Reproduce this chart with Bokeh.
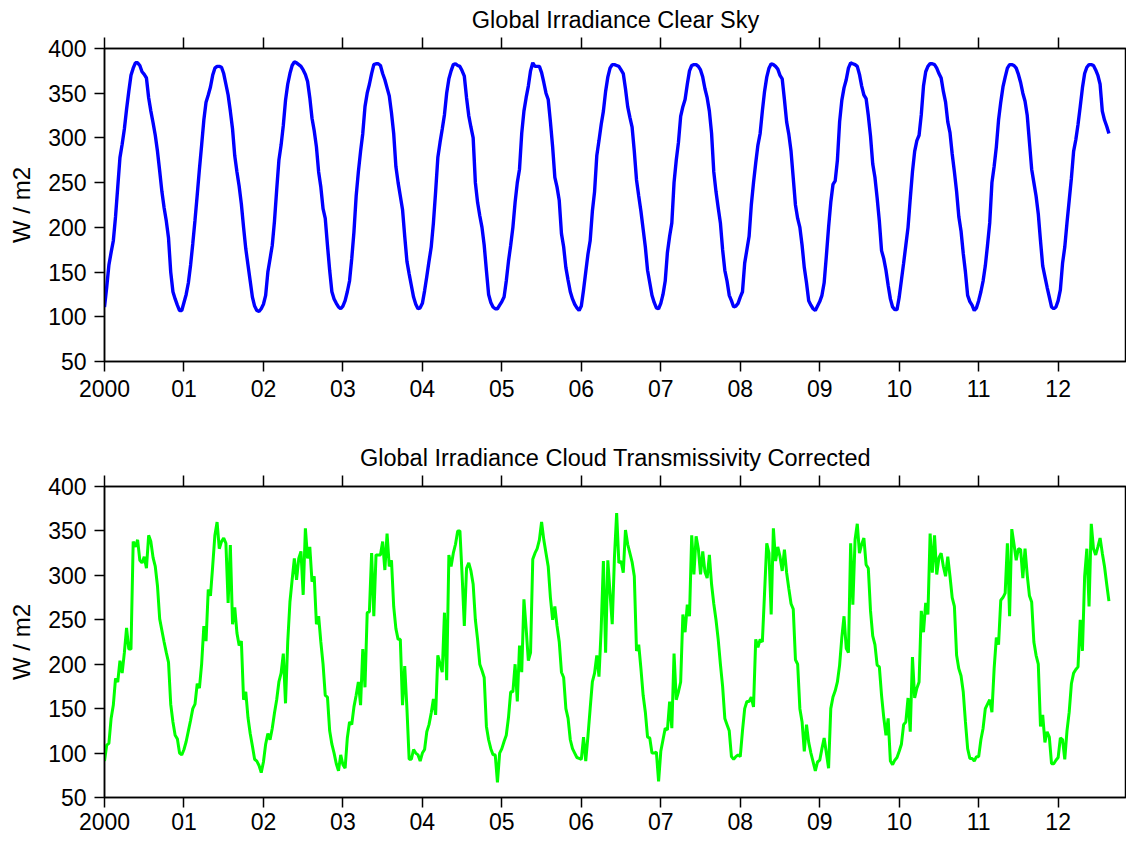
from bokeh.plotting import figure
from bokeh.models import FixedTicker, LinearAxis, Range1d, ColumnDataSource
from bokeh.layouts import column
from bokeh.embed import file_html
from bokeh.resources import INLINE

# ---------------- data (10-day steps, 36 per year) ----------------
years = list(range(2000, 2013))
tick_labels = ["2000", "01", "02", "03", "04", "05", "06", "07", "08", "09", "10", "11", "12"]
y_ticks = [50, 100, 150, 200, 250, 300, 350, 400]

clear_2000 = [111,133,158,172,185,212,245,278,293,310,332,352,370,378,384,384,381,374,371,367,345,330,317,303,285,263,240,222,207,188,150,128,120,113,107,107]
clear_2001 = [116,125,138,158,182,208,236,265,292,320,340,348,357,370,378,380,380,379,372,360,348,330,310,280,262,246,226,200,176,158,140,122,112,107,106,109]
clear_2002 = [114,124,150,165,180,207,242,275,292,314,342,360,372,381,385,384,382,380,376,371,363,345,322,308,290,262,245,221,210,180,152,128,120,115,111,109]
clear_2003 = [112,118,128,140,165,195,235,262,285,305,335,350,360,372,382,383,383,381,372,365,356,347,328,305,268,250,235,220,190,162,148,135,122,114,109,110]
clear_2004 = [115,129,145,162,178,205,240,278,295,310,326,350,366,375,382,383,381,380,375,369,345,325,312,300,250,228,213,200,180,152,125,116,111,109,109,113]
clear_2005 = [117,122,140,162,180,200,228,250,265,305,330,345,358,375,384,380,380,380,373,362,350,343,318,290,256,245,230,193,178,155,141,128,120,114,110,107]
clear_2006 = [112,130,150,170,185,218,240,280,297,315,330,352,368,378,382,382,381,380,376,372,355,335,323,312,285,253,235,218,198,178,152,138,124,116,110,109]
clear_2007 = [115,125,140,172,190,205,250,275,295,324,335,343,360,375,381,382,382,380,376,368,355,345,330,305,262,240,222,205,175,152,140,124,118,111,112,115]
clear_2008 = [122,128,160,175,190,225,250,272,292,305,330,352,368,378,383,382,380,377,370,366,343,318,304,285,255,225,210,200,180,155,138,118,113,109,107,112]
clear_2009 = [117,124,138,168,200,228,248,252,275,318,342,356,365,378,384,383,382,380,371,358,348,344,325,302,271,256,233,207,174,165,152,135,120,111,108,108]
clear_2010 = [122,141,160,180,200,232,262,285,297,303,326,358,374,380,383,383,382,378,372,367,352,340,318,306,282,262,240,212,196,171,150,124,117,113,107,110]
clear_2011 = [118,128,140,157,180,205,250,268,290,320,340,357,368,378,382,382,381,378,371,362,350,341,325,295,265,250,235,215,185,157,145,133,122,111,109,111]
clear_2012 = [118,130,160,178,205,230,255,285,298,315,335,356,372,379,382,382,381,376,370,360,330,320,313,305]

cloud_2000 = [91,109,111,139,154,184,180,204,190,213,241,217,217,338,332,340,317,314,321,308,345,338,320,310,288,251,238,225,213,202,155,135,120,116,100,98]
cloud_2001 = [104,113,125,137,150,155,178,173,200,243,226,284,277,310,345,360,330,338,342,336,269,334,245,264,235,221,226,160,169,140,122,108,93,91,86,78]
cloud_2002 = [90,110,122,115,128,145,160,180,190,212,156,225,270,295,319,295,319,327,278,353,319,332,293,299,245,254,225,200,165,163,125,110,100,88,80,98]
cloud_2003 = [87,83,117,135,132,152,165,180,154,217,174,258,259,325,254,323,323,323,338,306,347,310,317,265,240,228,228,154,198,150,93,93,104,100,98,91]
cloud_2004 = [100,104,124,132,145,161,143,210,200,191,258,182,323,310,325,335,350,350,300,243,308,314,305,290,250,228,200,193,185,130,115,105,98,98,67,100]
cloud_2005 = [105,113,120,140,169,169,200,158,221,191,273,240,204,213,318,325,330,340,360,340,325,310,275,250,265,243,225,191,185,150,139,115,105,100,95,94]
cloud_2006 = [93,118,91,119,150,180,190,210,186,240,316,213,317,280,245,320,370,314,316,303,351,335,325,315,299,215,222,195,165,146,118,117,100,100,101,68]
cloud_2007 = [102,115,128,126,158,128,212,160,169,180,256,236,267,254,345,301,344,330,301,327,304,297,323,290,268,250,228,200,175,139,132,125,96,93,96,98]
cloud_2008 = [96,125,150,158,158,163,152,228,219,228,225,280,336,325,256,353,316,332,321,305,329,303,285,268,262,205,200,150,135,102,132,112,100,90,80,90]
cloud_2009 = [92,105,117,100,83,150,163,170,180,199,230,254,218,213,336,267,340,358,325,335,342,312,308,260,232,222,199,197,165,140,120,139,91,87,92,95]
cloud_2010 = [102,110,132,135,162,124,208,162,173,180,260,236,269,256,347,303,345,301,320,325,310,299,321,299,275,265,210,195,187,169,135,105,94,94,91,96]
cloud_2011 = [96,115,128,150,155,160,146,195,230,222,272,275,280,336,254,352,335,317,330,329,297,330,300,277,270,225,210,200,130,143,112,124,118,88,88,92]
cloud_2012 = [95,117,115,93,125,146,178,190,194,197,250,215,299,330,265,358,330,323,332,342,325,310,290,271]

clear_by_year = [clear_2000, clear_2001, clear_2002, clear_2003, clear_2004, clear_2005, clear_2006,
                 clear_2007, clear_2008, clear_2009, clear_2010, clear_2011, clear_2012]
cloud_by_year = [cloud_2000, cloud_2001, cloud_2002, cloud_2003, cloud_2004, cloud_2005, cloud_2006,
                 cloud_2007, cloud_2008, cloud_2009, cloud_2010, cloud_2011, cloud_2012]


def series(by_year):
    xs, ys = [], []
    for yr, vals in zip(years, by_year):
        for i, v in enumerate(vals):
            xs.append(yr + i / 36.0)
            ys.append(v)
    return ColumnDataSource(data=dict(x=xs, y=ys))


FONT = "Liberation Sans"
FS = "23px"
label_over = {yr: lab for yr, lab in zip(years, tick_labels)}


def make_panel(title, src, color, height, border_top, border_bottom, lw, title_standoff, xlab_standoff):
    p = figure(width=1126, height=height,
               x_range=Range1d(2000, 2012.86), y_range=Range1d(50, 400),
               output_backend="svg", toolbar_location=None,
               min_border_left=104, min_border_right=0,
               min_border_top=border_top, min_border_bottom=border_bottom)
    p.background_fill_color = "white"
    p.border_fill_color = "white"
    p.outline_line_color = "black"
    p.outline_line_width = 1.5
    p.xgrid.visible = False
    p.ygrid.visible = False

    p.title.text = title
    p.title.align = "center"
    p.title.text_font = FONT
    p.title.text_font_size = "23.5px"
    p.title.text_font_style = "normal"
    p.title.text_color = "black"
    p.title.standoff = title_standoff

    xa = p.xaxis[0]
    xa.ticker = FixedTicker(ticks=years)
    xa.major_label_overrides = label_over
    xa.major_label_text_font = FONT
    xa.major_label_text_font_size = FS
    xa.major_label_text_color = "black"
    xa.major_tick_out = 10
    xa.major_tick_in = 0
    xa.minor_tick_out = 0
    xa.minor_tick_in = 0
    xa.major_label_standoff = xlab_standoff
    xa.axis_line_width = 1.5
    xa.major_tick_line_width = 1.5

    ya = p.yaxis[0]
    ya.ticker = FixedTicker(ticks=y_ticks)
    ya.major_label_text_font = FONT
    ya.major_label_text_font_size = FS
    ya.major_label_text_color = "black"
    ya.major_tick_out = 10
    ya.major_tick_in = 0
    ya.minor_tick_out = 0
    ya.minor_tick_in = 0
    ya.major_label_standoff = 8
    ya.axis_line_width = 1.5
    ya.major_tick_line_width = 1.5
    ya.axis_label = "W / m2"
    ya.axis_label_text_font = FONT
    ya.axis_label_text_font_size = "24px"
    ya.axis_label_text_font_style = "normal"
    ya.axis_label_text_color = "black"
    ya.axis_label_standoff = 10

    top = LinearAxis(ticker=FixedTicker(ticks=years),
                     major_label_text_color=None, major_label_text_font_size="1px",
                     major_label_standoff=0,
                     major_tick_out=11, major_tick_in=0,
                     minor_tick_out=0, minor_tick_in=0,
                     axis_line_width=1.5, major_tick_line_width=1.5)
    p.add_layout(top, "above")

    p.line("x", "y", source=src, line_color=color, line_width=lw)
    return p


p1 = make_panel("Global Irradiance Clear Sky", series(clear_by_year), "#0000FF",
                409, 46, 48, 3.4, 9, 8)
p2 = make_panel("Global Irradiance Cloud Transmissivity Corrected", series(cloud_by_year), "#00FF00",
                431, 77, 43, 3.0, 10, 5)

layout = column(p1, p2, spacing=0)
open("out.html", "w").write(file_html(layout, INLINE))
